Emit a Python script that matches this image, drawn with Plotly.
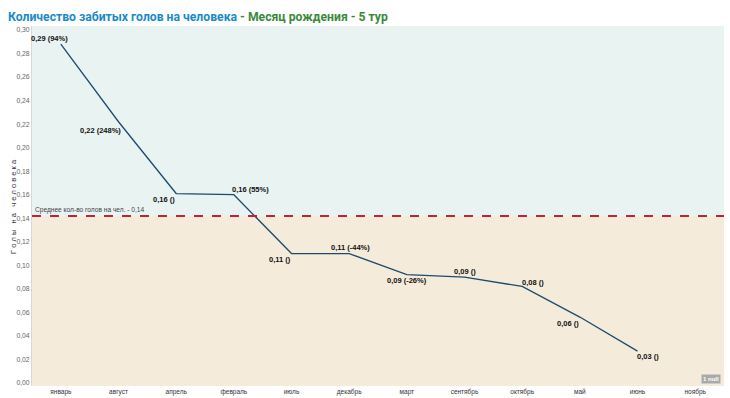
import plotly.graph_objects as go

# ---- data ----
months = ["январь", "август", "апрель", "февраль", "июль", "декабрь",
          "март", "сентябрь", "октябрь", "май", "июнь", "ноябрь"]
goals_per_person = [0.288, 0.222, 0.161, 0.160, 0.110, 0.110,
                    0.092, 0.090, 0.082, 0.056, 0.027, None]
point_labels = ["0,29 (94%)", "0,22 (248%)", "0,16 ()", "0,16 (55%)", "0,11 ()",
                "0,11 (-44%)", "0,09 (-26%)", "0,09 ()", "0,08 ()", "0,06 ()",
                "0,03 ()", None]
mean_value = 0.142
mean_label = "Среднее кол-во голов на чел. - 0,14"
y_ticks = [0.00, 0.02, 0.04, 0.06, 0.08, 0.10, 0.12, 0.14,
           0.16, 0.18, 0.20, 0.22, 0.24, 0.26, 0.28, 0.30]
y_tick_text = ["0,00", "0,02", "0,04", "0,06", "0,08", "0,10", "0,12", "0,14",
               "0,16", "0,18", "0,20", "0,22", "0,24", "0,26", "0,28", "0,30"]
null_count_label = "1 null"

# label placement (style): pixel shifts relative to each point
label_shift = [(-11, 6), (-18, -9), (-12, -6), (17, 5), (-12, -6), (1, 6),
               (0, -6), (0, 6), (11, 4), (-12, -6), (10, -5), (0, 0)]

fig = go.Figure()

# background bands
fig.add_shape(type="rect", xref="paper", yref="y", x0=0, x1=1,
              y0=mean_value, y1=0.31, fillcolor="#E8F3F2", line_width=0, layer="below")
fig.add_shape(type="rect", xref="paper", yref="y", x0=0, x1=1,
              y0=-0.01, y1=mean_value, fillcolor="#F5EBDA", line_width=0, layer="below")

fig.add_trace(go.Scatter(
    x=months, y=goals_per_person, mode="lines",
    line=dict(color="#1D4B6E", width=1.3),
    connectgaps=False, showlegend=False, hoverinfo="x+y"))

# mean line
fig.add_shape(type="line", xref="paper", yref="y", x0=0, x1=1,
              y0=mean_value, y1=mean_value,
              line=dict(color="#C0223A", width=2, dash="dash"))
fig.add_annotation(xref="paper", yref="y", x=0.001, y=mean_value, text=mean_label,
                   showarrow=False, xanchor="left", yanchor="bottom", yshift=0,
                   font=dict(family="Liberation Sans", size=6.6, color="#444444"))

for m, v, t, (dx, dy) in zip(months, goals_per_person, point_labels, label_shift):
    if v is None or t is None:
        continue
    fig.add_annotation(x=m, y=v, text="<b>" + t + "</b>", showarrow=False,
                       xshift=dx, yshift=dy,
                       font=dict(family="Liberation Sans", size=7.5, color="#111111"))

# y axis title
fig.add_annotation(xref="paper", yref="paper", x=-0.037, y=0.5,
                   text="Г о л ы   н а   ч е л о в е к а", textangle=-90,
                   showarrow=False,
                   font=dict(family="Liberation Sans", size=7.5, color="#333333"))

# null badge
fig.add_annotation(xref="paper", yref="paper", x=0.995, y=0.005,
                   text="<b>" + null_count_label + "</b>", showarrow=False,
                   xanchor="right", yanchor="bottom",
                   bgcolor="#A9A9A9", borderpad=1,
                   font=dict(family="Liberation Sans", size=6, color="white"))

fig.update_layout(
    width=730, height=398,
    margin=dict(l=32, r=6, t=26, b=12, autoexpand=False),
    paper_bgcolor="white", plot_bgcolor="white",
    title=dict(
        text="<b><span style='color:#1A8BC7'>Количество забитых голов на человека</span>"
             "<span style='color:#3A8A3A'> - Месяц рождения - 5 тур</span></b>",
        x=0.011, xanchor="left", y=0.957, yanchor="middle",
        font=dict(family="Roboto", size=12.2)),
    xaxis=dict(type="category", categoryorder="array", categoryarray=months,
               showgrid=False, zeroline=False, showline=False, automargin=False,
               ticks="", ticklabelstandoff=0,
               tickfont=dict(family="Liberation Sans", size=6.5, color="#333333"),
               range=[-0.5, 11.5]),
    yaxis=dict(range=[-0.0026, 0.3034], tickvals=y_ticks, ticktext=y_tick_text,
               showgrid=False, zeroline=False, showline=True, linecolor="#D8D8D8",
               linewidth=1, ticks="", automargin=False,
               tickfont=dict(family="Liberation Sans", size=6.8, color="#666666")),
)

fig.write_html("out.html",
               config={"displayModeBar": False},
               post_script="document.body.style.margin='0';"
                           "document.body.style.overflow='hidden';")
